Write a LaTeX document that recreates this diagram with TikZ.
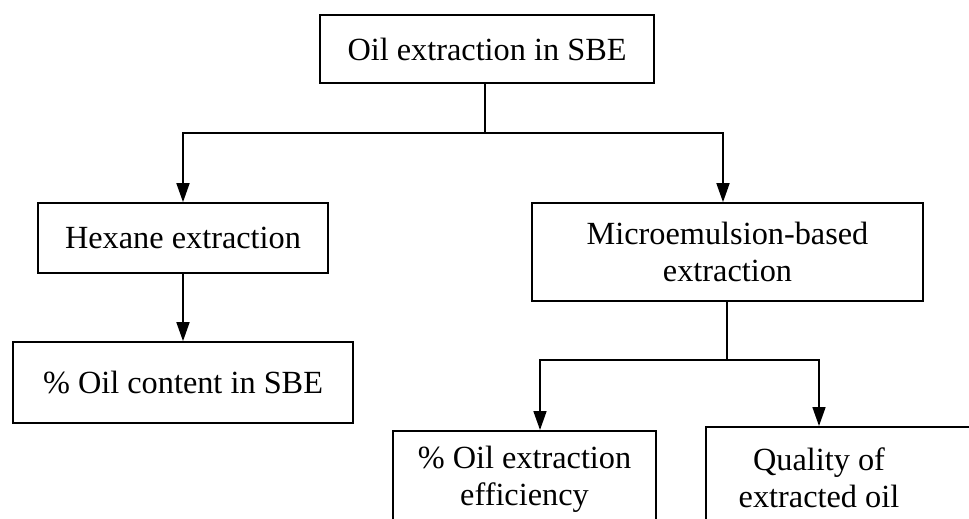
\documentclass[tikz,border=0pt]{standalone}
\usepackage{fontspec}
\setmainfont{Liberation Serif}
\usetikzlibrary{arrows.meta}
\begin{document}
\begin{tikzpicture}[x=1pt,y=-1pt,
  txt/.style={align=center, inner sep=0pt, font=\fontsize{32.3}{37}\selectfont},
  box/.style={txt, draw, line width=1.7pt},
  conn/.style={line width=1.7pt},
  arr/.style={conn, -{Triangle[width=13pt,length=19pt]}}]
\useasboundingbox (0,0) rectangle (969,519);
\clip (0,0) rectangle (969,519);
\node[box, minimum width=334pt, minimum height=68pt] (top) at (487,49) {Oil extraction in SBE};
\node[box, minimum width=290pt, minimum height=70pt] (hex) at (183,238) {Hexane extraction};
\node[box, minimum width=340pt, minimum height=81pt] (oil) at (183,382.5) {\% Oil content in SBE};
\node[box, minimum width=391pt, minimum height=98pt] (mic) at (727.5,252) {Microemulsion-based\\extraction};
\node[box, minimum width=263pt, minimum height=96pt, anchor=north] (eff) at (524.5,430) {\% Oil extraction\\efficiency};
\node[box, minimum width=300pt, minimum height=104pt, anchor=north west] (qbox) at (705,426) {};
\node[txt] (qtext) at (819,478) {Quality of\\extracted oil};
\coordinate (j1) at (485,133);
\coordinate (j2) at ([xshift=-0.5pt,yshift=-58pt]mic.south);
\draw[conn] (j1 |- top.south) -- (j1);
\draw[arr] (j1) -| (hex.north);
\draw[arr] (j1) -| ([xshift=-4.5pt]mic.north);
\draw[arr] (hex.south) -- (oil.north);
\draw[conn] (j2 |- mic.south) -- (j2);
\draw[arr] (j2) -| ([xshift=15.5pt]eff.north);
\draw[arr] (j2) -| ([xshift=114pt]qbox.north west);
\end{tikzpicture}
\end{document}
